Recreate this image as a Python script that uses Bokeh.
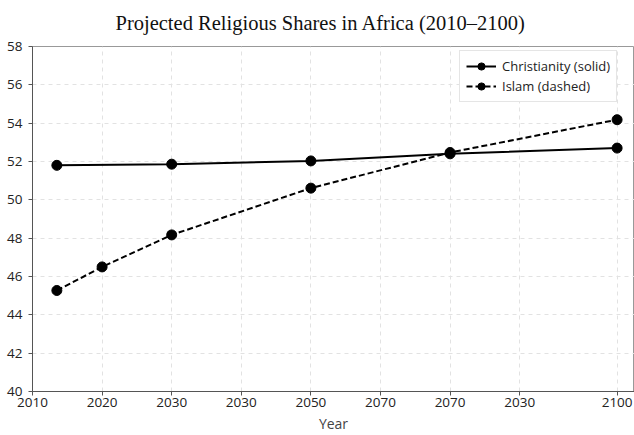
from bokeh.plotting import figure
from bokeh.models import Range1d, FixedTicker, Legend, LegendItem
from bokeh.embed import file_html
from bokeh.resources import INLINE

# positions on the year axis (as drawn) and the tick labels shown
christ_years = [2013.5, 2030, 2050, 2070, 2094]
christ_share = [51.8, 51.86, 52.03, 52.4, 52.7]
islam_years = [2013.5, 2020, 2030, 2050, 2070, 2094]
islam_share = [45.27, 46.5, 48.17, 50.61, 52.47, 54.18]

tick_pos = [2010, 2020, 2030, 2040, 2050, 2060, 2070, 2080, 2094]
tick_labels = ["2010", "2020", "2030", "2030", "2050", "2070", "2070", "2030", "2100"]
y_ticks = [40, 42, 44, 46, 48, 50, 52, 54, 56, 58]

FONT = "Open Sans"

p = figure(width=634, height=435, output_backend="svg", toolbar_location=None,
           x_range=Range1d(2010, 2096.5), y_range=Range1d(40, 58),
           title="Projected Religious Shares in Africa (2010\u20132100)")

p.title.text_font = "Liberation Serif"
p.title.text_font_size = "20.5px"
p.title.text_font_style = "normal"
p.title.align = "left"
p.title.vertical_align = "top"
p.title.text_color = "#111111"
p.title.offset = 83
p.title.standoff = 22

p.min_border_left = 32
p.min_border_right = 0
p.min_border_top = 5
p.min_border_bottom = 0

l1 = p.line(christ_years, christ_share, line_color="black", line_width=2)
c1 = p.scatter(christ_years, christ_share, size=10, color="black")
l2 = p.line(islam_years, islam_share, line_color="black", line_width=2, line_dash="6 3")
c2 = p.scatter(islam_years, islam_share, size=10, color="black")

legend = Legend(items=[LegendItem(label="Christianity (solid)", renderers=[l1, c1]),
                       LegendItem(label="Islam (dashed)", renderers=[l2, c2])],
                location=(427, 289))
legend.label_text_font = FONT
legend.label_text_font_size = "13px"
legend.label_text_color = "#222222"
legend.border_line_color = "#cccccc"
legend.border_line_width = 1
legend.background_fill_color = "white"
legend.background_fill_alpha = 1
legend.margin = 0
legend.padding = 6
legend.spacing = 2
legend.glyph_width = 30
legend.glyph_height = 18
legend.label_standoff = 6
p.add_layout(legend)

p.xaxis.ticker = FixedTicker(ticks=tick_pos)
p.xaxis.major_label_overrides = {t: s for t, s in zip(tick_pos, tick_labels)}
p.yaxis.ticker = FixedTicker(ticks=y_ticks)
p.xaxis.axis_label = "Year"
p.xaxis.axis_label_text_font = FONT
p.xaxis.axis_label_text_font_size = "14px"
p.xaxis.axis_label_text_font_style = "normal"
p.xaxis.axis_label_standoff = 4

for ax in (p.xaxis, p.yaxis):
    ax.major_label_text_font = FONT
    ax.major_label_text_font_size = "13.5px"
    ax.major_label_text_color = "#222222"
    ax.axis_line_color = "#555555"
    ax.major_tick_line_color = "#555555"
    ax.major_tick_in = 0
    ax.major_tick_out = 4
    ax.minor_tick_line_color = None
    ax.major_label_standoff = 2
p.yaxis.major_label_standoff = 6

p.xgrid.grid_line_color = "#e2e2e2"
p.ygrid.grid_line_color = "#e2e2e2"
p.xgrid.grid_line_dash = "4 4"
p.ygrid.grid_line_dash = "4 4"
p.outline_line_color = "#999999"
p.background_fill_color = "white"
p.border_fill_color = "white"

open("out.html", "w").write(file_html(p, INLINE))
